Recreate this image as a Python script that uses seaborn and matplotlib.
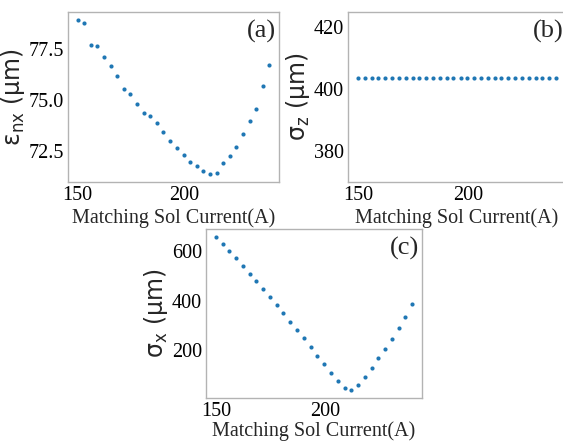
import numpy as np
import pandas as pd
import matplotlib
matplotlib.use("Agg")
import matplotlib.pyplot as plt
import seaborn as sns

# x: matching solenoid current (A), 30 points from 150 to 240
current = [150.0, 153.1, 156.2, 159.3, 162.4, 165.5, 168.6, 171.7, 174.8, 177.9,
           181.0, 184.1, 187.2, 190.3, 193.4, 196.6, 199.7, 202.8, 205.9, 209.0,
           212.1, 215.2, 218.3, 221.4, 224.5, 227.6, 230.7, 233.8, 236.9, 240.0]

emit_nx = [78.91, 78.76, 77.65, 77.61, 77.08, 76.66, 76.14, 75.54, 75.28, 74.80,
           74.36, 74.20, 73.83, 73.42, 72.95, 72.64, 72.26, 71.92, 71.73, 71.48,
           71.34, 71.38, 71.87, 72.23, 72.67, 73.29, 73.94, 74.54, 75.65, 76.69]

sigma_z = [403.8] * 30

sigma_x = [659.5, 631.4, 600.7, 571.2, 541.8, 509.7, 478.9, 448.2, 414.7, 382.6,
           349.2, 315.7, 281.0, 247.5, 212.7, 177.9, 143.1, 108.4, 76.3, 46.8,
           37.5, 58.9, 92.3, 128.4, 167.2, 206.0, 246.2, 289.0, 334.4, 386.6]

xlabel = "Matching Sol Current(A)"
ylabels = ["ε$_{nx}$ (μm)", "σ$_{z}$ (μm)", "σ$_{x}$ (μm)"]
panel_tags = ["(a)", "(b)", "(c)"]

sns.set_theme(style="whitegrid")
plt.rcParams['font.family'] = ['Liberation Serif', 'DejaVu Serif']
plt.rcParams['mathtext.default'] = 'regular'
plt.rcParams['axes.grid'] = False
plt.rcParams['axes.edgecolor'] = '#b3b3b3'
plt.rcParams['axes.linewidth'] = 1.0

W, H = 563, 441
fig = plt.figure(figsize=(W / 100, H / 100), dpi=100)

def box(l, t, r, b):
    return [l / W, 1 - b / H, (r - l) / W, (b - t) / H]

ax_a = fig.add_axes(box(68, 12, 279, 182))
ax_b = fig.add_axes(box(348, 12, 566, 182))
ax_c = fig.add_axes(box(206, 229, 422, 398))

df = pd.DataFrame({"current": current, "emit": emit_nx, "sz": sigma_z, "sx": sigma_x})

for ax, col, ylab, tag in [(ax_a, "emit", ylabels[0], panel_tags[0]),
                           (ax_b, "sz", ylabels[1], panel_tags[1]),
                           (ax_c, "sx", ylabels[2], panel_tags[2])]:
    sns.scatterplot(data=df, x="current", y=col, ax=ax, s=9, linewidth=0,
                    color="#1f77b4")
    ax.set_xlabel(xlabel, fontsize=14.5, labelpad=2)
    ax.set_ylabel(ylab, fontsize=17, family=['DejaVu Sans'], labelpad=1)
    ax.tick_params(axis='both', length=0, labelsize=14.5, pad=3, colors='black')
    ax.set_xticks([150, 200])
    ax.text(0.988, 0.955, tag, transform=ax.transAxes, ha='right', va='top',
            fontsize=19)

ax_c.set_xlabel(xlabel, fontsize=14.5, labelpad=0)
ax_a.set_yticks([72.5, 75.0, 77.5])
ax_b.set_ylim(370, 425)
ax_b.set_yticks([380, 400, 420])
ax_c.set_yticks([200, 400, 600])

fig.savefig("out.png", dpi=100)
